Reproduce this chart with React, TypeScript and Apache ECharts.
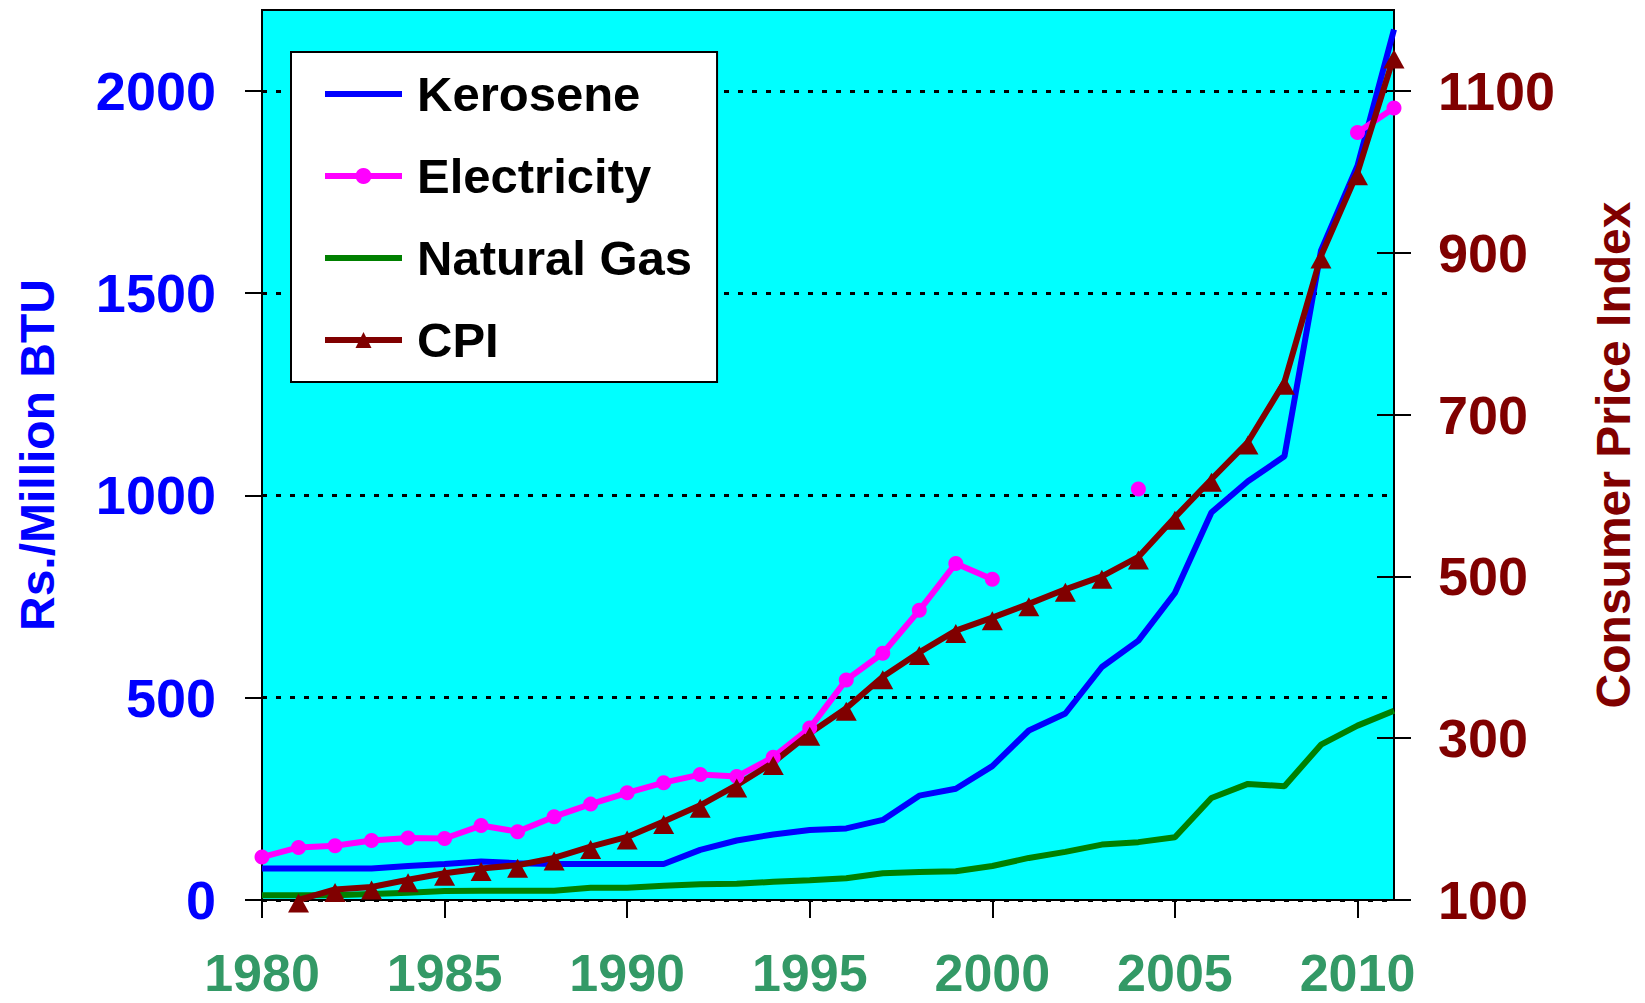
import React, { useEffect, useRef } from "react";
import * as echarts from "echarts";

const years = [1980, 1981, 1982, 1983, 1984, 1985, 1986, 1987, 1988, 1989, 1990, 1991, 1992, 1993, 1994, 1995, 1996, 1997, 1998, 1999, 2000, 2001, 2002, 2003, 2004, 2005, 2006, 2007, 2008, 2009, 2010, 2011];

const kerosene = [78, 78, 78, 78, 84, 89, 95, 91, 89, 89, 89, 89, 124, 147, 162, 173, 177, 198, 258, 275, 331, 419, 461, 576, 641, 759, 958, 1035, 1097, 1605, 1815, 2152];

const electricity: (number | null)[] = [106, 130, 134, 147, 153, 152, 184, 169, 206, 237, 265, 290, 310, 305, 353, 425, 544, 610, 716, 832, 793, null, null, null, 1016, null, null, null, null, null, 1897, 1958];

const naturalGas = [12, 12, 12, 15, 18, 22, 23, 23, 23, 30, 30, 35, 39, 40, 45, 49, 54, 66, 69, 71, 84, 104, 119, 137, 143, 155, 252, 287, 281, 384, 431, 468];

const cpi: (number | null)[] = [null, 100, 113, 116, 125, 133, 139, 143, 152, 166, 178, 197, 217, 242, 270, 306, 337, 376, 406, 433, 449, 466, 484, 500, 524, 573, 620, 666, 740, 896, 999, 1143];

const xTicks = [1980, 1985, 1990, 1995, 2000, 2005, 2010];
const leftTicks = [0, 500, 1000, 1500, 2000];
const rightTicks = [100, 300, 500, 700, 900, 1100];

const FONT = "'Liberation Sans', Arial, sans-serif";
const LW = 6;

const pairs = (vals: (number | null)[]) => years.map((y, i) => [y, vals[i]]);
const plain = (v: number) => String(v);

export default function App() {
  const ref = useRef<HTMLDivElement>(null);
  useEffect(() => {
    if (!ref.current) return;
    const chart = echarts.init(ref.current, null, { renderer: "svg" });
    chart.setOption({
      animation: false,
      textStyle: { fontFamily: FONT },
      grid: {
        left: 262,
        right: 250,
        top: 10,
        bottom: 103,
        show: true,
        backgroundColor: "#00FFFF",
        borderColor: "#000",
        borderWidth: 2,
        containLabel: false,
      },
      legend: {
        orient: "vertical",
        left: 291,
        top: 52,
        backgroundColor: "#fff",
        borderColor: "#000",
        borderWidth: 2,
        borderRadius: 0,
        padding: [17, 25, 17, 31],
        itemGap: 32,
        itemWidth: 77,
        itemHeight: 20,
        lineStyle: { width: LW },
        textStyle: {
          fontSize: 49,
          fontWeight: "bold",
          color: "#000",
          fontFamily: FONT,
          lineHeight: 50,
          padding: [0, 0, 0, 10],
        },
        data: [
          { name: "Kerosene", itemStyle: { opacity: 0 } },
          { name: "Electricity" },
          { name: "Natural Gas", itemStyle: { opacity: 0 } },
          { name: "CPI" },
        ],
      },
      xAxis: {
        type: "value",
        min: 1980,
        max: 2011,
        interval: 5,
        axisLine: { show: true, lineStyle: { color: "#000", width: 2 } },
        axisTick: { show: true, length: 18, lineStyle: { color: "#000", width: 2 }, customValues: xTicks },
        axisLabel: {
          color: "#339966",
          fontSize: 52,
          lineHeight: 52,
          fontWeight: "bold",
          fontFamily: FONT,
          margin: 47,
          customValues: xTicks,
          formatter: plain,
        },
        splitLine: { show: false },
      },
      yAxis: [
        {
          type: "value",
          min: 0,
          max: 2200,
          interval: 500,
          position: "left",
          name: "Rs./Million BTU",
          nameLocation: "middle",
          nameRotate: 90,
          nameGap: 201,
          nameTextStyle: { color: "#0000FF", fontSize: 48, fontWeight: "bold", fontFamily: FONT },
          axisLine: { show: true, lineStyle: { color: "#000", width: 2 } },
          axisTick: { show: true, length: 17, lineStyle: { color: "#000", width: 2 }, customValues: leftTicks },
          axisLabel: {
            color: "#0000FF",
            fontSize: 54,
            fontWeight: "bold",
            fontFamily: FONT,
            margin: 46,
            customValues: leftTicks,
            formatter: plain,
          },
          splitLine: { show: true, lineStyle: { color: "#000", width: 3, type: [5, 9] } },
        },
        {
          type: "value",
          min: 100,
          max: 1200,
          interval: 200,
          position: "right",
          name: "Consumer Price Index",
          nameLocation: "middle",
          nameRotate: 90,
          nameGap: 195,
          nameTextStyle: { color: "#800000", fontSize: 48, fontWeight: "bold", fontFamily: FONT },
          axisLine: { show: true, lineStyle: { color: "#000", width: 2 } },
          axisTick: { show: true, length: 17, lineStyle: { color: "#000", width: 2 }, customValues: rightTicks },
          axisLabel: {
            color: "#800000",
            fontSize: 54,
            fontWeight: "bold",
            fontFamily: FONT,
            margin: 44,
            customValues: rightTicks,
            formatter: plain,
          },
          splitLine: { show: false },
        },
        {
          type: "value",
          min: 100,
          max: 1200,
          interval: 200,
          position: "right",
          axisLine: { show: false },
          axisTick: { show: true, inside: true, length: 17, lineStyle: { color: "#000", width: 2 }, customValues: rightTicks },
          axisLabel: { show: false },
          splitLine: { show: false },
        },
      ],
      series: [
        {
          name: "Kerosene",
          type: "line",
          yAxisIndex: 0,
          data: pairs(kerosene),
          symbol: "none",
          lineStyle: { color: "#0000FF", width: LW },
          itemStyle: { color: "#0000FF" },
        },
        {
          name: "Electricity",
          type: "line",
          yAxisIndex: 0,
          data: pairs(electricity),
          connectNulls: false,
          symbol: "circle",
          symbolSize: 15,
          showSymbol: true,
          lineStyle: { color: "#FF00FF", width: LW },
          itemStyle: { color: "#FF00FF" },
        },
        {
          name: "Natural Gas",
          type: "line",
          yAxisIndex: 0,
          data: pairs(naturalGas),
          symbol: "none",
          lineStyle: { color: "#008000", width: LW },
          itemStyle: { color: "#008000" },
        },
        {
          name: "CPI",
          type: "line",
          yAxisIndex: 1,
          data: pairs(cpi),
          symbol: "triangle",
          symbolSize: [21, 19],
          symbolOffset: [0, 3],
          showSymbol: true,
          clip: false,
          lineStyle: { color: "#800000", width: LW },
          itemStyle: { color: "#800000" },
        },
      ],
    });
    return () => chart.dispose();
  }, []);
  return (
    <div
      ref={ref}
      style={{ position: "absolute", left: 0, top: 0, width: 1645, height: 1003, background: "#fff" }}
    />
  );
}
